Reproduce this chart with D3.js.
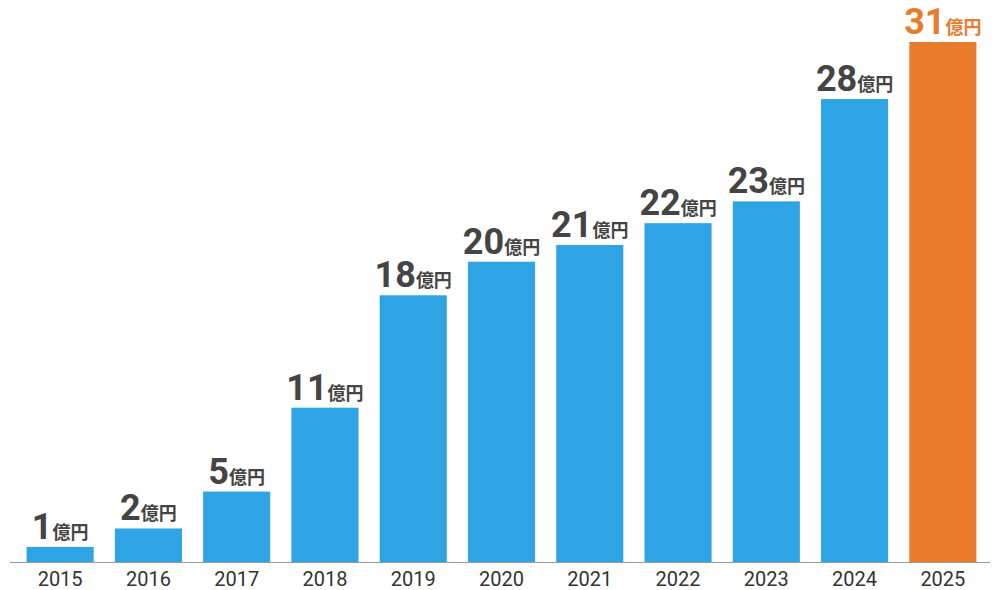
<!DOCTYPE html>
<html><head><meta charset="utf-8">
<script src="https://cdn.jsdelivr.net/npm/d3@7"></script>
<style>body{margin:0;background:#fff}</style>
</head><body>
<svg id="chart" width="1000" height="590"></svg>
<script>
// Years and revenue labels (億円).
const years = ["2015","2016","2017","2018","2019","2020","2021","2022","2023","2024","2025"];
const values = [1, 2, 5, 11, 18, 20, 21, 22, 23, 28, 31];
// Bar levels as drawn in the picture (not proportional to the labels).
const barLevels = [0.9, 2.0, 4.2, 9.2, 15.9, 17.9, 18.9, 20.2, 21.5, 27.6, 31];

const svg = d3.select("#chart");
const baseY = 562;

const x = d3.scaleBand().domain(years).range([16, 987]).paddingInner(0.24).paddingOuter(0.12);
const y = d3.scaleLinear().domain([0, 31]).range([baseY, 42]);

// Bars.
svg.selectAll("rect").data(years).join("rect")
    .attr("x", d => x(d))
    .attr("y", (d, i) => y(barLevels[i]))
    .attr("width", x.bandwidth())
    .attr("height", (d, i) => baseY - y(barLevels[i]))
    .attr("fill", (d, i) => i === years.length - 1 ? "#EA7B2C" : "#2EA4E4");

// Baseline.
svg.append("line").attr("x1", 10).attr("x2", 990).attr("y1", baseY + 0.5).attr("y2", baseY + 0.5)
    .attr("stroke", "#999").attr("stroke-width", 1);

// Year labels.
svg.selectAll(".year").data(years).join("text")
    .attr("class", "year")
    .attr("x", d => x(d) + x.bandwidth() / 2)
    .attr("y", 586)
    .attr("text-anchor", "middle")
    .attr("font-family", "Roboto, 'Noto Sans CJK JP', sans-serif")
    .attr("font-size", 20)
    .attr("fill", "#333")
    .text(d => d);

// Value labels.
const lab = svg.selectAll(".val").data(years).join("text")
    .attr("class", "val")
    .attr("x", d => x(d) + x.bandwidth() / 2)
    .attr("y", (d, i) => y(barLevels[i]) - 8)
    .attr("text-anchor", "middle")
    .attr("font-family", "Roboto, 'Noto Sans CJK JP', sans-serif")
    .attr("font-weight", "bold")
    .attr("fill", (d, i) => i === years.length - 1 ? "#EA7B2C" : "#444");
lab.append("tspan").attr("font-size", 36).text((d, i) => values[i]);
lab.append("tspan").attr("font-size", 18).attr("font-family", "'Noto Sans CJK JP', sans-serif").text("億円");
</script>
</body></html>
